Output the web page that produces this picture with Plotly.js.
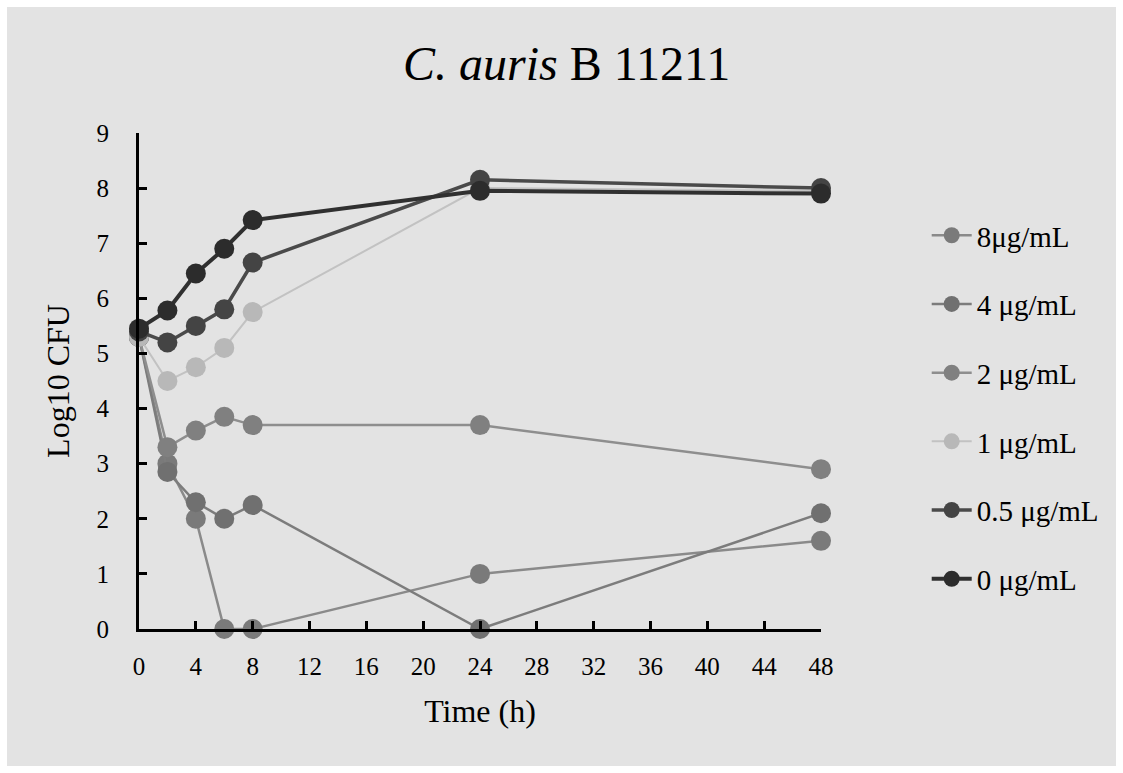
<!DOCTYPE html>
<html>
<head>
<meta charset="utf-8">
<script src="https://cdn.plot.ly/plotly-3.0.1.min.js"></script>
<style>
  html, body { margin: 0; padding: 0; background: #ffffff; width: 1123px; height: 773px; overflow: hidden; }
  #chart { position: absolute; left: 7px; top: 7px; width: 1109px; height: 759px; }
</style>
</head>
<body>
<div id="chart"></div>
<script>
// Time points (h)
const times = [0, 2, 4, 6, 8, 24, 48];

// Series names (legend order)
const seriesNames = ["8μg/mL", "4 μg/mL", "2 μg/mL", "1 μg/mL", "0.5 μg/mL", "0 μg/mL"];

// Log10 CFU values
const conc8   = [5.30, 3.00, 2.00, 0.00, 0.00, 1.00, 1.60];
const conc4   = [5.30, 2.85, 2.30, 2.00, 2.25, 0.00, 2.10];
const conc2   = [5.30, 3.30, 3.60, 3.85, 3.70, 3.70, 2.90];
const conc1   = [5.30, 4.50, 4.75, 5.10, 5.75, 8.00, 7.95];
const conc05  = [5.40, 5.20, 5.50, 5.80, 6.65, 8.15, 8.00];
const conc0   = [5.45, 5.78, 6.45, 6.90, 7.42, 7.95, 7.90];

const seriesValues = [conc8, conc4, conc2, conc1, conc05, conc0];

// tick labels
const xTicks = [0, 4, 8, 12, 16, 20, 24, 28, 32, 36, 40, 44, 48];
const yTicks = [0, 1, 2, 3, 4, 5, 6, 7, 8, 9];

// title text
const chartTitle = "<i>C. auris</i> B 11211";

// styles
const lineColors   = ["#8a8a8a", "#7c7c7c", "#8e8e8e", "#c2c2c2", "#4a4a4a", "#303030"];
const markerColors = ["#7a7a7a", "#707070", "#808080", "#b8b8b8", "#444444", "#2c2c2c"];
const lineWidths   = [2.5, 2.5, 2.5, 2, 3.5, 4];

const serif = "Liberation Serif";

const traces = seriesNames.map((name, i) => ({
  type: "scatter",
  mode: "lines+markers",
  name: name,
  legendgroup: "g" + i,
  x: times,
  y: seriesValues[i],
  cliponaxis: false,
  line: { color: lineColors[i], width: lineWidths[i] },
  marker: { symbol: "circle", size: 20, color: markerColors[i], line: { width: 0 } }
}));

const layout = {
  width: 1109,
  height: 759,
  margin: { l: 132, r: 293, t: 126, b: 137 },
  paper_bgcolor: "#e3e3e3",
  plot_bgcolor: "rgba(0,0,0,0)",
  font: { family: serif, color: "#000000" },
  annotations: [{
    text: chartTitle,
    xref: "paper", yref: "paper",
    x: (568 - 139) / 684, xanchor: "center",
    y: (629 - 63) / 496, yanchor: "middle",
    showarrow: false,
    font: { family: serif, size: 48, color: "#000000" }
  }],
  xaxis: {
    range: [0, 48],
    tickmode: "array",
    tickvals: xTicks,
    ticktext: xTicks.map(String),
    ticks: "inside",
    ticklen: 8,
    tickwidth: 3,
    tickcolor: "#000",
    showline: true,
    linecolor: "#000",
    linewidth: 3,
    showgrid: false,
    zeroline: false,
    ticklabelstandoff: 13,
    tickfont: { family: serif, size: 25, color: "#000" },
    title: { text: "Time (h)", font: { family: serif, size: 32, color: "#000" }, standoff: 21 }
  },
  yaxis: {
    range: [0, 9],
    tickmode: "array",
    tickvals: yTicks,
    ticktext: yTicks.map(String),
    ticks: "inside",
    ticklen: 8,
    tickwidth: 3,
    tickcolor: "#000",
    showline: true,
    linecolor: "#000",
    linewidth: 3,
    showgrid: false,
    zeroline: false,
    ticklabelstandoff: 22,
    tickfont: { family: serif, size: 25, color: "#000" },
    title: { text: "Log10 CFU", font: { family: serif, size: 32, color: "#000" }, standoff: 18 }
  },
  showlegend: true,
  legend: {
    x: 1.155, xanchor: "left",
    y: 0.845, yanchor: "top",
    bgcolor: "rgba(0,0,0,0)",
    font: { family: serif, size: 29, color: "#000" },
    tracegroupgap: 28,
    itemwidth: 40
  }
};

Plotly.newPlot("chart", traces, layout, { displayModeBar: false, staticPlot: true });
</script>
</body>
</html>
